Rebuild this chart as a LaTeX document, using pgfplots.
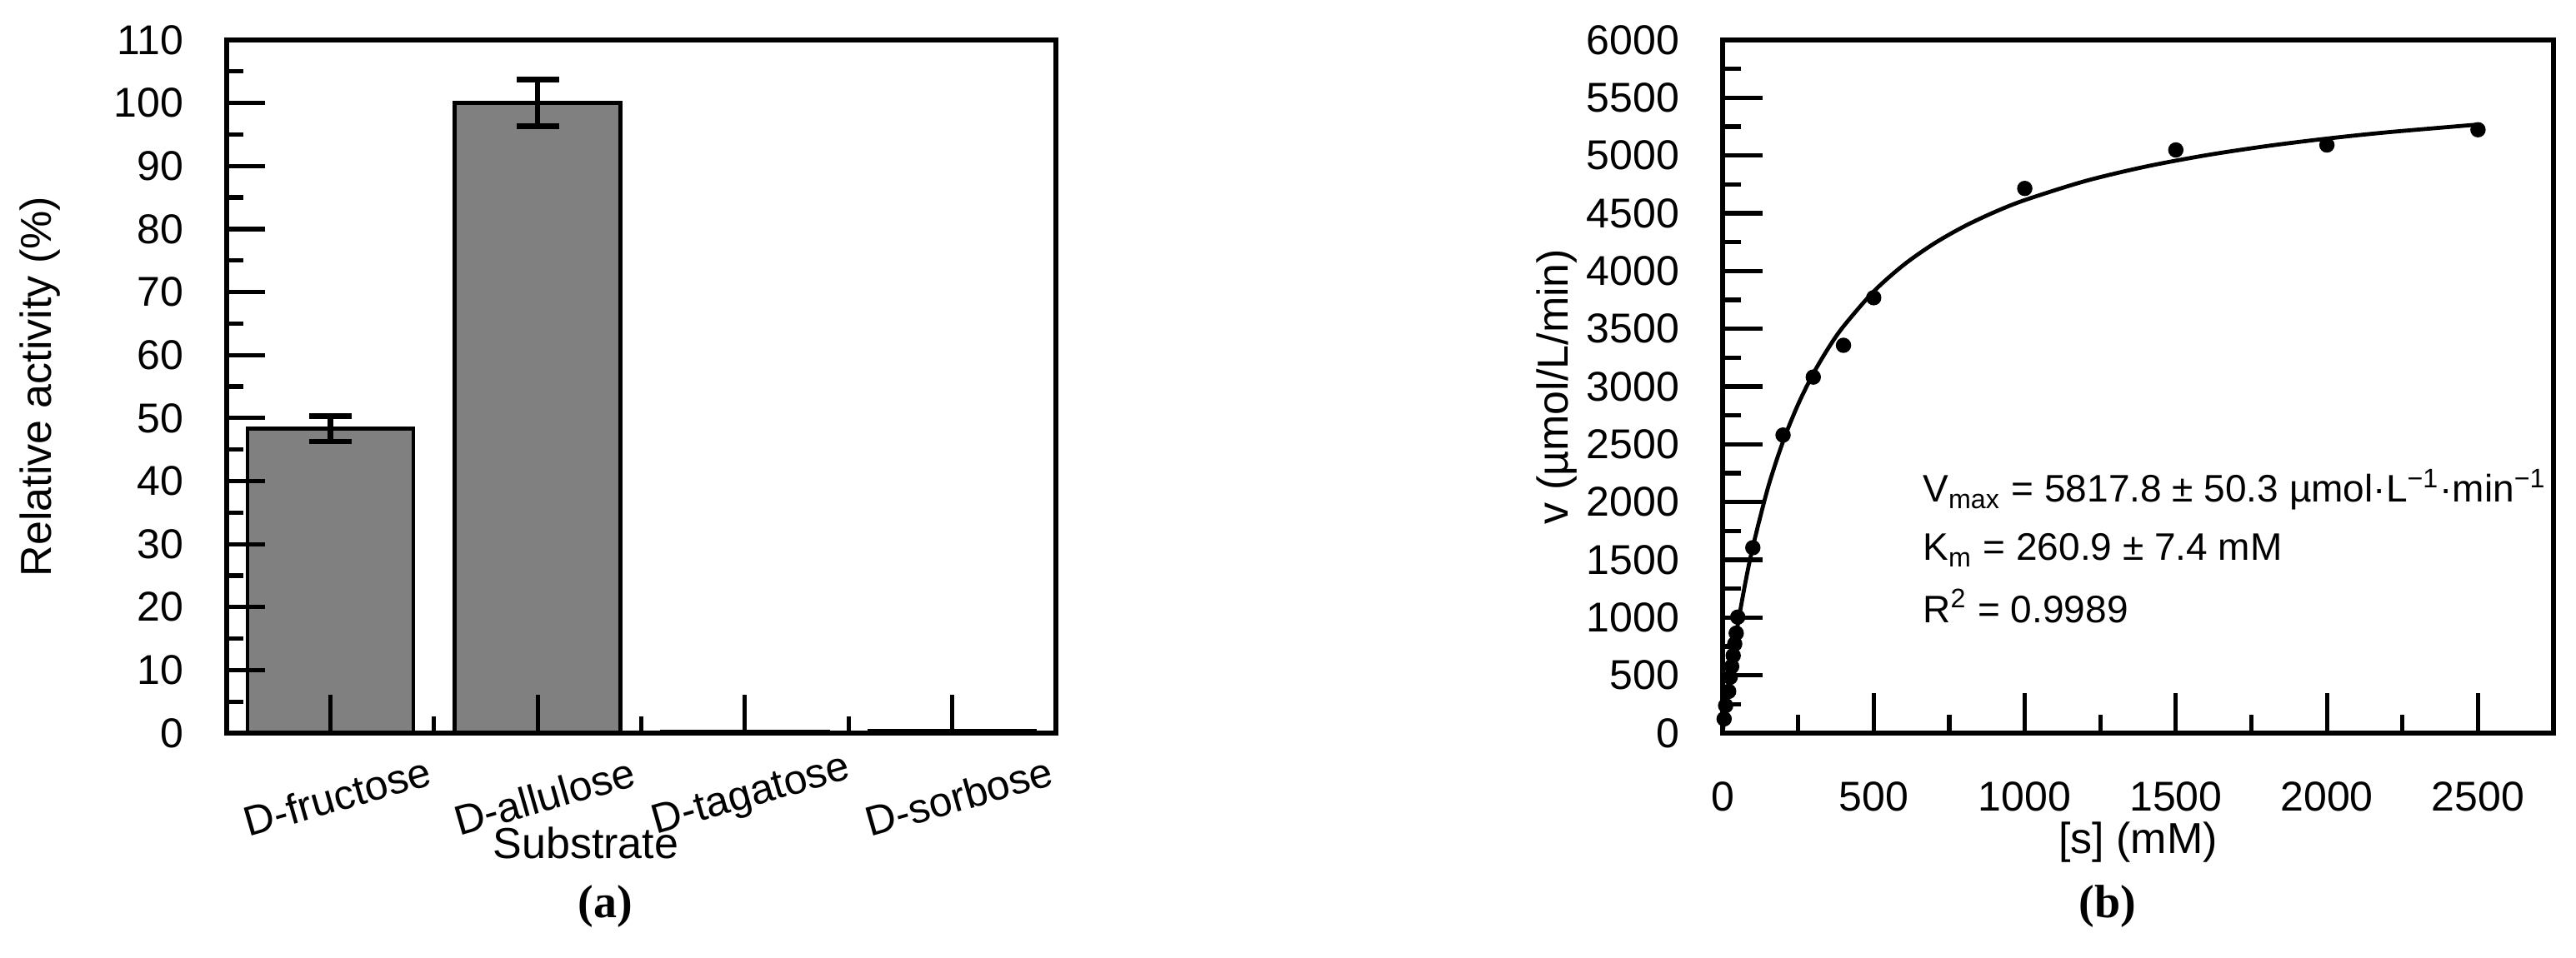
\documentclass[border=0pt]{standalone}
\usepackage{fontspec}
\setmainfont{Liberation Sans}
\newfontfamily\capfont{Liberation Serif}
\usepackage{pgfplots}
\pgfplotsset{compat=1.18}
\definecolor{bargray}{RGB}{128,128,128}

\pgfplotsset{
  panel/.style={
    scale only axis,
    axis on top,
    axis line style={line width=1.6pt},
    tick align=inside,
    xtick pos=bottom, ytick pos=left,
    tick style={line width=1.3pt, black},
    tick label style={font=\fontsize{12.5}{15}\selectfont},
    label style={font=\fontsize{13}{15.6}\selectfont},
    /pgf/number format/assume math mode=true,
    /pgf/number format/1000 sep={},
    yticklabel style={xshift=-9.5pt},
  }
}

\begin{document}
\begin{tikzpicture}
\useasboundingbox (0,0) rectangle (772.75pt,287.25pt);

% (a) relative activity
\begin{axis}[panel,
  at={(68pt,67.25pt)}, anchor=south west,
  width=248.75pt, height=208pt,
  xmin=-0.5, xmax=3.5, ymin=0, ymax=110,
  major tick length=11.5pt, minor tick length=5pt,
  xtick={0,1,2,3},
  xticklabels={D-fructose,D-allulose,D-tagatose,D-sorbose},
  minor xtick={0.5,1.5,2.5},
  ytick={0,10,...,110}, minor ytick={5,15,...,105},
  xticklabel style={yshift=-19pt, xshift=2pt, rotate=16, anchor=center},
  xlabel={Substrate}, ylabel={Relative activity (\%)},
  xlabel style={at={(axis description cs:0.433,0)}, anchor=center, yshift=-33pt},
  ylabel style={at={(axis description cs:-0.225,0.5)}, anchor=center},
]
\addplot[ybar, bar width=0.8, bar shift=0pt, fill=bargray, draw=black, line width=1.1pt,
  error bars/.cd, y dir=both, y explicit,
  error bar style={line width=1.6pt},
  error mark options={rotate=90, mark size=6.4pt, line width=1.6pt}]
  coordinates {(0,48.3) +- (0,2.0) (1,100.0) +- (0,3.7)};
\addplot[ybar, bar width=0.8, bar shift=0pt, fill=bargray, draw=black, line width=1.1pt]
  coordinates {(2,0.2) (3,0.4)};
\end{axis}

% (b) Michaelis-Menten kinetics
\begin{axis}[panel,
  at={(516.75pt,67.25pt)}, anchor=south west,
  width=249.25pt, height=208pt,
  xmin=0, xmax=2750, ymin=0, ymax=6000,
  major tick length=12pt, minor tick length=5.5pt,
  xtick={0,500,...,2500}, minor xtick={250,750,...,2750},
  ytick={0,500,...,6000}, minor ytick={250,750,...,5750},
  xticklabel style={anchor=center, yshift=-19pt},
  xlabel={{[s]} (mM)}, ylabel={v (µmol/L/min)},
  xlabel style={at={(axis description cs:0.5,0)}, anchor=center, yshift=-32.75pt},
  ylabel style={at={(axis description cs:-0.2,0.5)}, anchor=center},
]
\addplot[black, line width=1.2pt, smooth] coordinates {
  (0,0) (10,214.8) (20,414.2) (30,600.0) (50,935.6) (75,1299.0) (100,1612.0)
  (150,2123.8) (200,2524.5) (250,2846.9) (300,3111.7) (350,3333.2) (400,3521.1)
  (500,3823.0) (600,4054.7) (700,4238.2) (800,4387.1) (900,4510.3) (1000,4614.0)
  (1200,4778.8) (1400,4903.9) (1600,5002.1) (1800,5081.3) (2000,5146.4)
  (2200,5201.0) (2500,5268.0)};
\addplot[only marks, mark=*, mark size=2.1pt, black] coordinates {
  (5,123) (10,238) (20,361) (25,483) (30,577) (35,671) (40,772) (45,865) (50,1004)
  (100,1605) (200,2580) (300,3082) (400,3357) (500,3769)
  (1000,4715) (1500,5048) (2000,5091) (2500,5223)};
\node[anchor=base west, font=\fontsize{11.5}{13.8}\selectfont] at (axis cs:624,1998)
  {V\textsubscript{max} = 5817.8 ± 50.3 µmol·L\textsuperscript{−1}·min\textsuperscript{−1}};
\node[anchor=base west, font=\fontsize{11.5}{13.8}\selectfont] at (axis cs:624,1493)
  {K\textsubscript{m} = 260.9 ± 7.4 mM};
\node[anchor=base west, font=\fontsize{11.5}{13.8}\selectfont] at (axis cs:624,959)
  {R\textsuperscript{2} = 0.9989};
\end{axis}

\node[font=\capfont\bfseries\fontsize{14}{16}\selectfont] at (181.5pt,15.25pt) {(a)};
\node[font=\capfont\bfseries\fontsize{14}{16}\selectfont] at (632.25pt,15.25pt) {(b)};
\end{tikzpicture}
\end{document}
